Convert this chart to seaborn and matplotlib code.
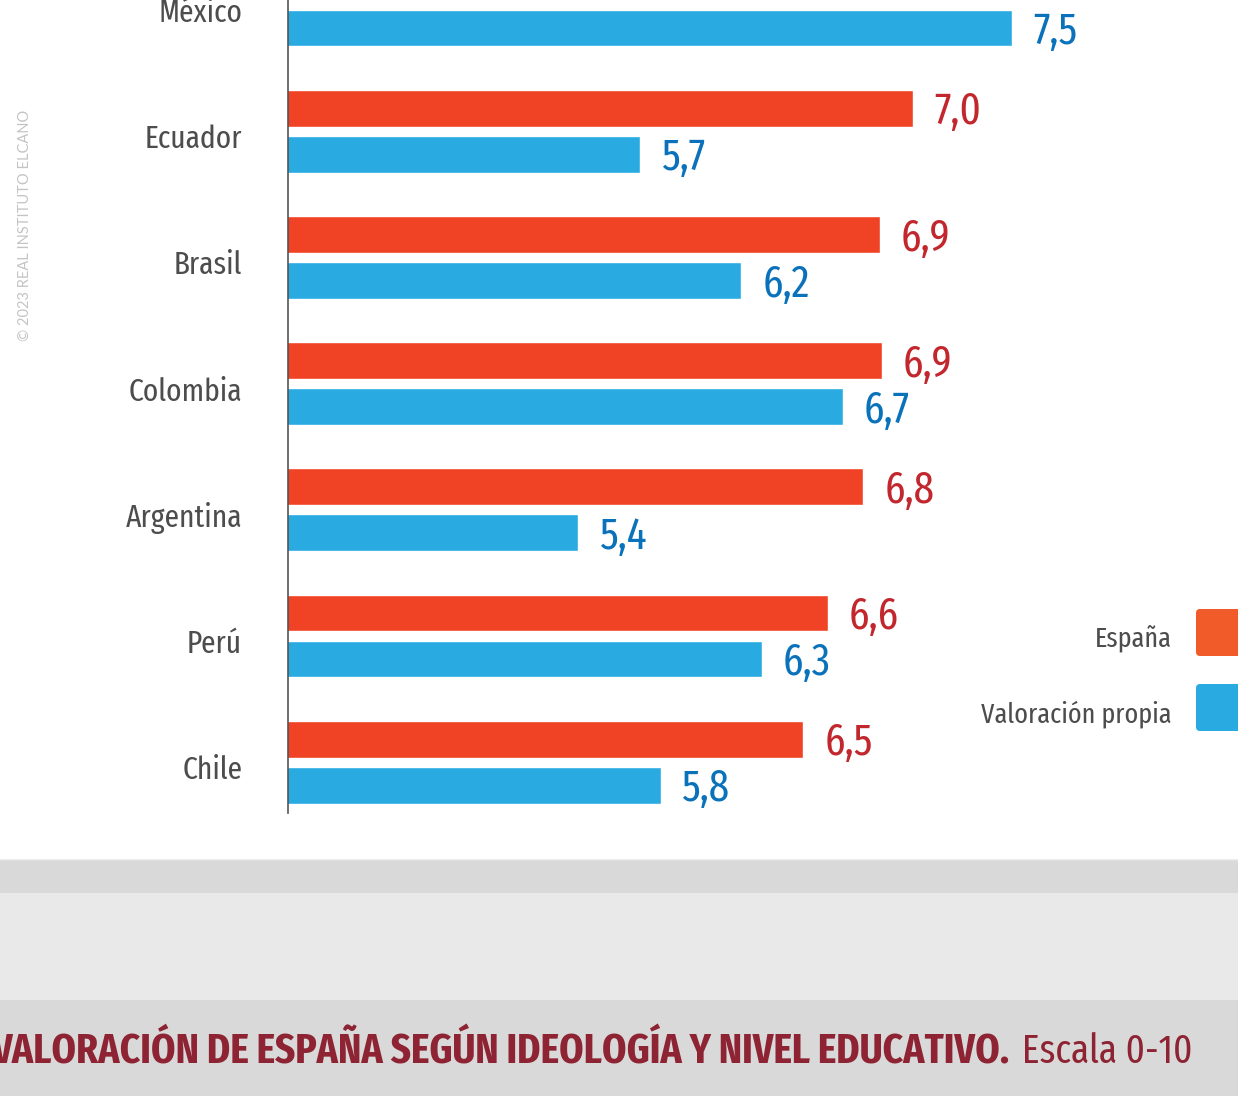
import pandas as pd
import seaborn as sns
import matplotlib.pyplot as plt
from matplotlib.transforms import offset_copy
from matplotlib.patches import FancyBboxPatch, Rectangle

# data (scale 0-10, axis starts at 4)
paises = ["México", "Ecuador", "Brasil", "Colombia", "Argentina", "Perú", "Chile"]
espana = [7.26, 7.02, 6.86, 6.87, 6.78, 6.61, 6.49]
propia = [7.50, 5.70, 6.19, 6.68, 5.40, 6.29, 5.80]
series = ["España", "Valoración propia"]

RED = "#F04224"
BLUE = "#29ABE2"
RED_TXT = "#C1272D"
BLUE_TXT = "#0A72BA"
GREY_TXT = "#4D4D4D"
TITLE = "#8E2433"

sns.set_theme(style="white")
plt.rcParams['font.family'] = ['Fira Sans Extra Condensed', 'DejaVu Sans']
plt.rcParams['font.stretch'] = 'condensed'

df = pd.DataFrame({
    'pais': paises * 2,
    'valor': espana + propia,
    'serie': [series[0]] * len(paises) + [series[1]] * len(paises),
})

W, H = 1238, 1096
fig = plt.figure(figsize=(W / 100, H / 100), dpi=100, facecolor="#D9D9D9")

# white panel with rounded corner, grey bands below
panel = FancyBboxPatch((-0.3, (H - 860) / 100), 13.0, 10.0,
                       boxstyle="round,pad=0,rounding_size=0.08",
                       transform=fig.dpi_scale_trans, facecolor="white",
                       edgecolor="#E4E4E4", linewidth=1, zorder=-2)
fig.patches.append(panel)
fig.patches.append(Rectangle((0, (H - 1000) / 100), W / 100, 107 / 100,
                             transform=fig.dpi_scale_trans,
                             facecolor="#E9E9E9", edgecolor="none", zorder=-2))

ax = fig.add_axes([288 / W, (H - 813) / H, (W - 288) / W, 813 / H])
ax.set_facecolor("none")
ax.set_zorder(1)

sns.barplot(data=df, y='pais', x='valor', hue='serie', orient='h',
            palette=[RED, BLUE], saturation=1, width=0.729, gap=0.196,
            legend=False, ax=ax)

for cont, col in zip(ax.containers, [RED_TXT, BLUE_TXT]):
    labels = [f"{b.get_width():.1f}".replace('.', ',') for b in cont]
    txts = ax.bar_label(cont, labels=labels, padding=15, color=col, fontsize=32)
    for t in txts:
        t.xyann = (15, -3)

ax.set_xlim(4, 4 + (W - 288) / 207)
ax.set_ylim((813 - 5) / 126.2, -5 / 126.2)
ax.set_xlabel("")
ax.set_ylabel("")
ax.set_xticks([])
ax.tick_params(axis='y', length=0, pad=33, labelsize=23, labelcolor=GREY_TXT)
for lab in ax.get_yticklabels():
    lab.set_transform(offset_copy(lab.get_transform(), fig=fig, y=-5, units='dots'))
for s in ['top', 'right', 'bottom']:
    ax.spines[s].set_visible(False)
ax.spines['left'].set_color("#555555")
ax.spines['left'].set_linewidth(1.2)

# legend on the right edge
for i, (lab, col) in enumerate(zip(series, ["#F15A29", BLUE])):
    top = 609 + i * 75
    fig.patches.append(FancyBboxPatch((1196 / 100, (H - top - 47) / 100), 0.6, 0.47,
                                      boxstyle="round,pad=0,rounding_size=0.04",
                                      transform=fig.dpi_scale_trans,
                                      facecolor=col, edgecolor="none"))
    fig.text(1172 / W, (H - top - 30) / H, lab, ha='right', va='center',
             fontsize=20.5, color=GREY_TXT)

fig.text(25 / W, (H - 225) / H, "© 2023 REAL INSTITUTO ELCANO", rotation=90,
         ha='center', va='center', fontsize=10.5, color="#C4C4C4",
         family=['Lato', 'DejaVu Sans'], stretch='normal')

fig.text(1010 / W, (H - 1052) / H,
         "VALORACIÓN DE ESPAÑA SEGÚN IDEOLOGÍA Y NIVEL EDUCATIVO.",
         ha='right', va='center', fontsize=30.6, fontweight='bold', color=TITLE)
fig.text(1022 / W, (H - 1052) / H, "Escala 0-10", ha='left', va='center',
         fontsize=29, color=TITLE)

fig.savefig("out.png", dpi=100, facecolor=fig.get_facecolor())
